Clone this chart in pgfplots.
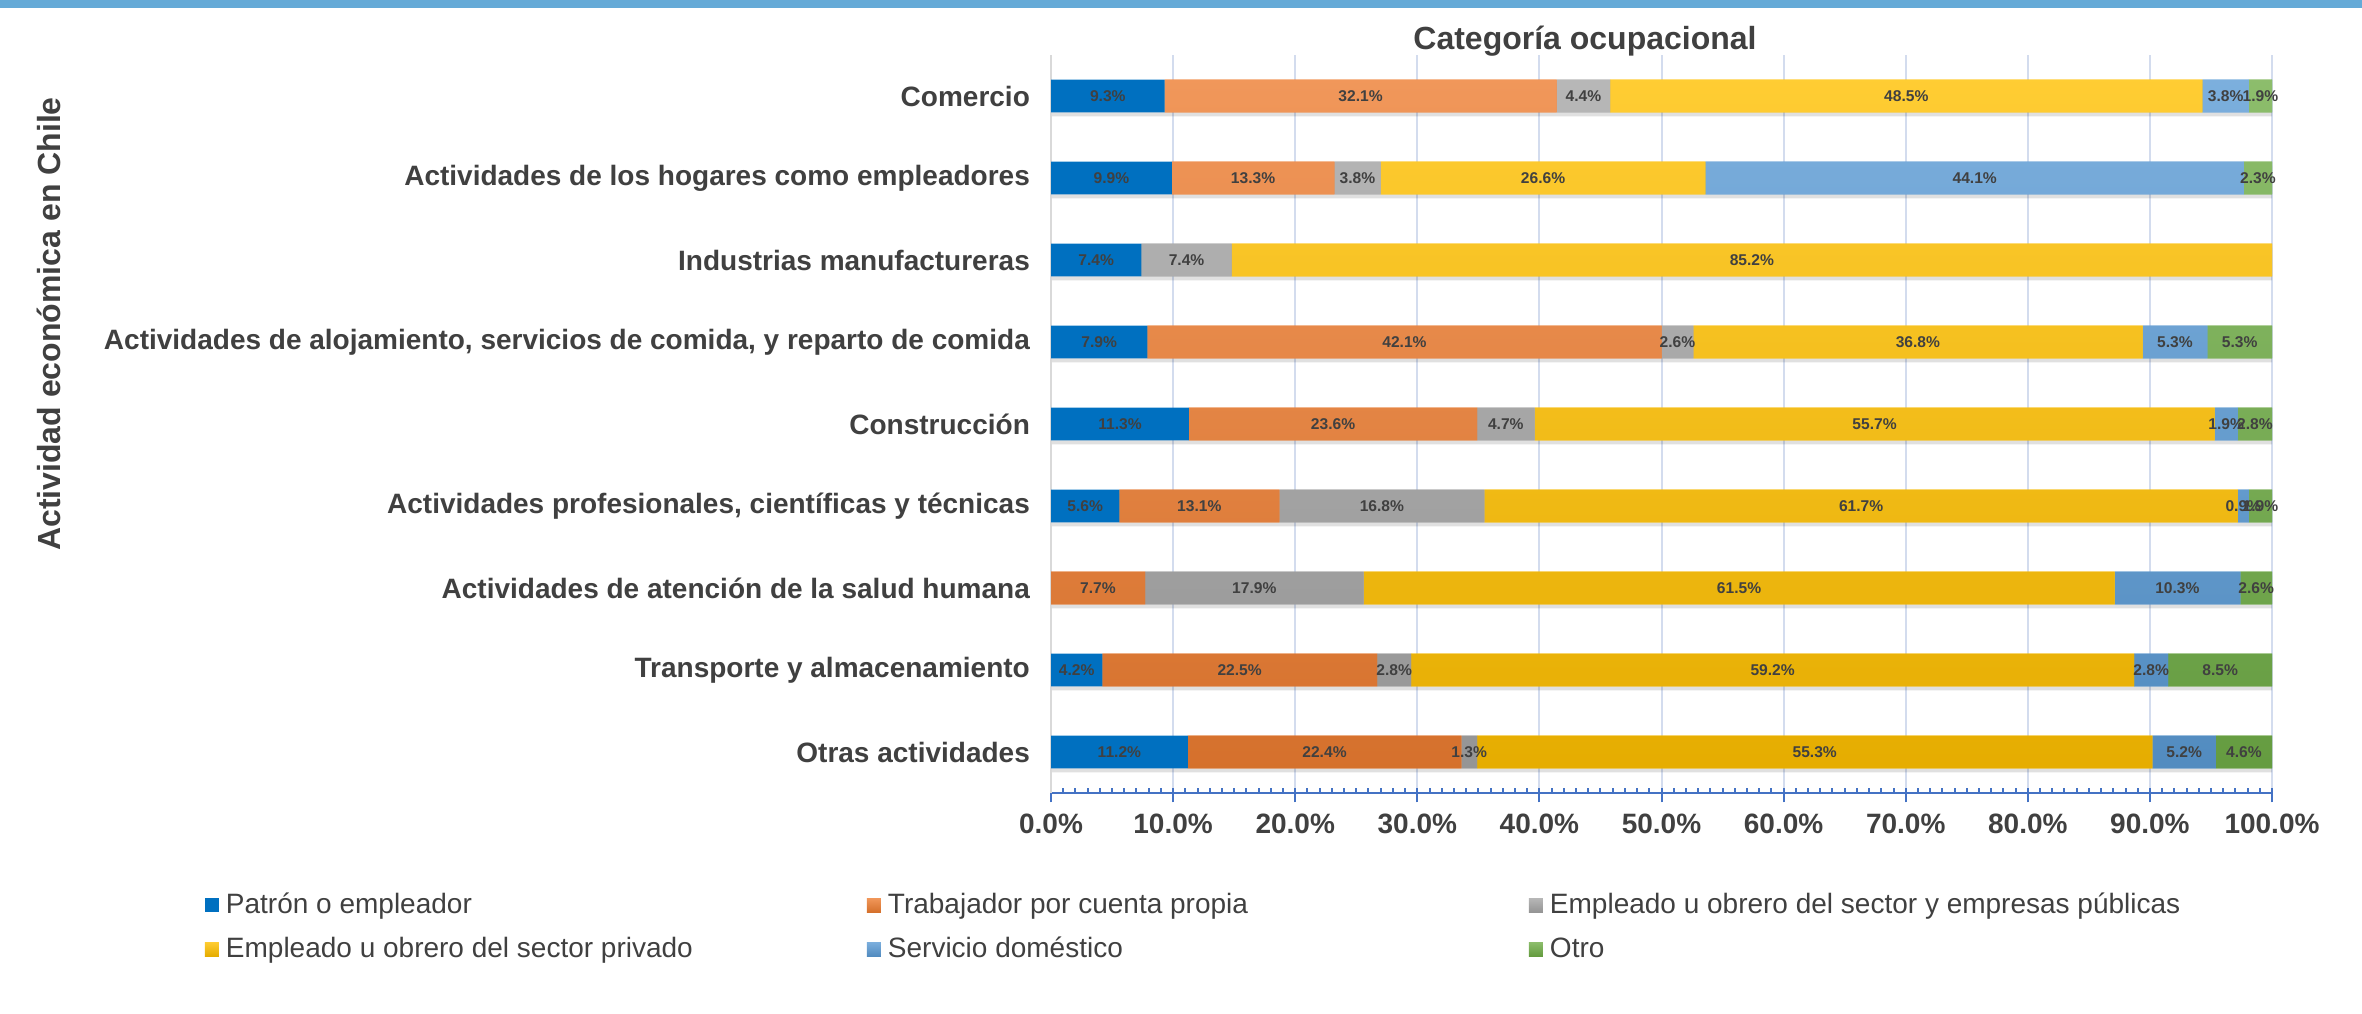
\documentclass[border=0pt]{standalone}
\usepackage{fontspec}
\setmainfont{Liberation Sans}
\usepackage{pgfplots}
\pgfplotsset{compat=1.18}
\definecolor{cBlue}{HTML}{0070C0}
\definecolor{cOrange}{HTML}{ED7D31}
\definecolor{cGray}{HTML}{A5A5A5}
\definecolor{cYellow}{HTML}{FFC000}
\definecolor{cLBlue}{HTML}{5B9BD5}
\definecolor{cGreen}{HTML}{70AD47}
\definecolor{textgray}{HTML}{404040}
\definecolor{gridcol}{HTML}{D3DCEE}
\definecolor{axisblue}{HTML}{4472C4}
\definecolor{yaxisgray}{HTML}{D9D9D9}
\definecolor{bandcol}{HTML}{65AAD7}
\pgfplotsset{
  barc/.style={draw=none, fill=#1, top color=#1!80!white, middle color=#1, bottom color=#1!90!black},
}
\begin{document}
\begin{tikzpicture}
\useasboundingbox (0,0) rectangle (590.5pt,253.5pt);
\fill[bandcol] (0,251.4pt) rectangle (590.5pt,253.5pt);
% underlay: grid and bar shadows
\begin{axis}[
  at={(262.75pt,55.25pt)}, anchor=south west,
  scale only axis, width=305.25pt, height=184.5pt,
  xmin=0, xmax=100, ymin=-0.5, ymax=8.5, y dir=reverse,
  axis line style={draw=none},
  xtick={0,10,...,100}, xticklabels={}, ytick=\empty,
  tick style={draw=none},
  xmajorgrids, grid style={gridcol, line width=0.5pt},
  xbar, bar width=8.2pt,
]
\addplot[xbar, bar width=8.2pt, bar shift=-1pt, fill=black, draw=none, opacity=0.12]
  coordinates {(100,0) (100,1) (100,2) (100,3) (100,4) (100,5) (100,6) (100,7) (100,8)};
\end{axis}
\begin{axis}[
  at={(262.75pt,55.25pt)}, anchor=south west,
  scale only axis, width=305.25pt, height=184.5pt,
  xmin=0, xmax=100, ymin=-0.5, ymax=8.5, y dir=reverse,
  xbar stacked, bar width=8.2pt,
  axis x line*=bottom, axis y line*=left,
  x axis line style={draw=axisblue, line width=0.6pt},
  y axis line style={draw=yaxisgray, line width=0.5pt},
  xtick={0,10,...,100}, minor x tick num=9,
  xticklabels={0.0\%,10.0\%,20.0\%,30.0\%,40.0\%,50.0\%,60.0\%,70.0\%,80.0\%,90.0\%,100.0\%},
  ytick={0,...,8},
  yticklabels={Comercio,Actividades de los hogares como empleadores,Industrias manufactureras,{Actividades de alojamiento, servicios de comida, y reparto de comida},Construcción,{Actividades profesionales, científicas y técnicas},Actividades de atención de la salud humana,Transporte y almacenamiento,Otras actividades},
  ytick style={draw=none},
  xtick style={draw=axisblue, line width=0.5pt},
  tick align=center, major tick length=3.5pt, minor tick length=1.25pt,
  major tick style={yshift=-0.6pt}, minor tick style={yshift=0.625pt},
  xticklabel style={font=\bfseries\fontsize{7}{8}\selectfont, text=textgray},
  yticklabel style={font=\bfseries\fontsize{7}{8}\selectfont, text=textgray},
  clip=false,
  visualization depends on={rawx \as \rawx},
  nodes near coords={\ifdim\rawx pt>0pt\relax\pgfmathprintnumber[fixed,fixed zerofill,precision=1,assume math mode=true]{\rawx}\%\fi},
  every node near coord/.append style={font=\bfseries\fontsize{3.9}{4.5}\selectfont, text=textgray, anchor=center, inner sep=0pt},
  legend columns=3, legend cell align=left,
  legend style={draw=none, fill=none, inner sep=0pt, outer sep=0pt, at={(-0.6929,-0.1328)}, anchor=north west, font=\fontsize{7}{8}\selectfont, text=textgray, row sep=4pt, nodes={inner xsep=1.75pt, inner ysep=0pt, text height=5.5pt, text depth=1.5pt}},
  legend image code/.code={\path[#1] (0pt,-1.75pt) rectangle (3.5pt,1.75pt);},
]
\addplot[draw=none, fill=cBlue] coordinates {(9.3,0) (9.9,1) (7.4,2) (7.9,3) (11.3,4) (5.6,5) (0,6) (4.2,7) (11.2,8)};
\addlegendentry{\makebox[158.5pt][l]{Patrón o empleador}}
\addplot[barc=cOrange] coordinates {(32.1,0) (13.3,1) (0,2) (42.1,3) (23.6,4) (13.1,5) (7.7,6) (22.5,7) (22.4,8)};
\addlegendentry{\makebox[158.5pt][l]{Trabajador por cuenta propia}}
\addplot[barc=cGray] coordinates {(4.4,0) (3.8,1) (7.4,2) (2.6,3) (4.7,4) (16.8,5) (17.9,6) (2.8,7) (1.3,8)};
\addlegendentry{Empleado u obrero del sector y empresas públicas}
\addplot[barc=cYellow] coordinates {(48.5,0) (26.6,1) (85.2,2) (36.8,3) (55.7,4) (61.7,5) (61.5,6) (59.2,7) (55.3,8)};
\addlegendentry{\makebox[158.5pt][l]{Empleado u obrero del sector privado}}
\addplot[barc=cLBlue] coordinates {(3.8,0) (44.1,1) (0,2) (5.3,3) (1.9,4) (0.9,5) (10.3,6) (2.8,7) (5.2,8)};
\addlegendentry{\makebox[158.5pt][l]{Servicio doméstico}}
\addplot[barc=cGreen] coordinates {(1.9,0) (2.3,1) (0,2) (5.3,3) (2.8,4) (1.9,5) (2.6,6) (8.5,7) (4.6,8)};
\addlegendentry{Otro}
\end{axis}
\node[font=\bfseries\fontsize{8}{9.6}\selectfont, text=textgray, anchor=base] at (396.25pt,241pt) {Categoría ocupacional};
\node[font=\bfseries\fontsize{8}{9.6}\selectfont, text=textgray, anchor=base, rotate=90] at (15pt,172.5pt) {Actividad económica en Chile};
\end{tikzpicture}
\end{document}
